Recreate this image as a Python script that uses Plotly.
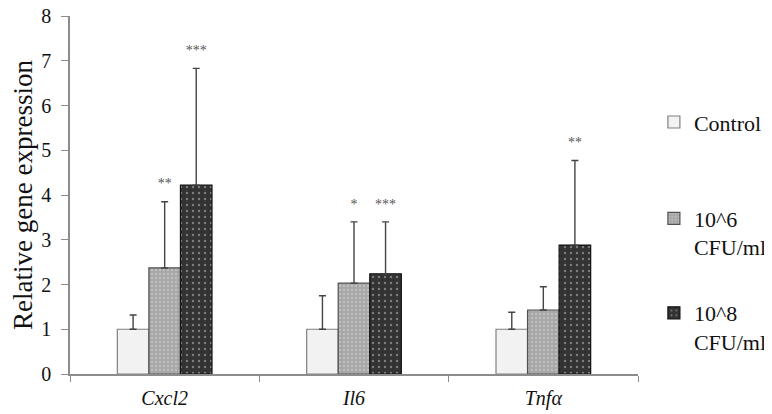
import plotly.graph_objects as go

genes = ["<i>Cxcl2</i>", "<i>Il6</i>", "<i>Tnfα</i>"]
series_names = ["Control", "10^6<br>CFU/ml", "10^8<br>CFU/ml"]
means = {
    "Control": [1.0, 1.0, 1.0],
    "10^6": [2.37, 2.03, 1.43],
    "10^8": [4.22, 2.24, 2.88],
}
err_top = {
    "Control": [1.32, 1.75, 1.38],
    "10^6": [3.85, 3.40, 1.95],
    "10^8": [6.83, 3.40, 4.77],
}
stars = {
    "Control": ["", "", ""],
    "10^6": ["**", "*", ""],
    "10^8": ["***", "***", "**"],
}
y_ticks = [0, 1, 2, 3, 4, 5, 6, 7, 8]

keys = ["Control", "10^6", "10^8"]
legend_ids = ["legend", "legend2", "legend3"]
legend_y = [0.762, 0.493, 0.229]
styles = {
    "Control": dict(color="#f2f2f2", line="#808080", fg=None, size=0, sol=0),
    "10^6": dict(color="#a6a6a6", line="#505050", fg="#d6d6d6", size=4, sol=0.3),
    "10^8": dict(color="#333333", line="#111111", fg="#c8c8c8", size=6, sol=0.12),
}

FONT = "Liberation Serif, Times New Roman, serif"
fig = go.Figure()
for i, k in enumerate(keys):
    st = styles[k]
    marker = dict(color=st["color"], line=dict(color=st["line"], width=1.2))
    if st["fg"]:
        marker["pattern"] = dict(shape=".", fgcolor=st["fg"], size=st["size"],
                                 solidity=st["sol"])
    plus = [t - m for t, m in zip(err_top[k], means[k])]
    fig.add_trace(go.Bar(
        x=genes, y=means[k], name=series_names[i], marker=marker,
        offsetgroup=k, legend=legend_ids[i],
        error_y=dict(type="data", symmetric=False, array=plus,
                     arrayminus=[0] * len(plus), color="#444444",
                     thickness=1.4, width=3.5),
    ))
for i, k in enumerate(keys):
    fig.add_trace(go.Scatter(
        x=genes, y=err_top[k], mode="markers+text", text=stars[k],
        textposition="top center", offsetgroup=k, showlegend=False,
        marker=dict(size=14, opacity=0),
        textfont=dict(size=14, color="#555555", family=FONT),
        hoverinfo="skip",
    ))

legend_common = dict(x=1.028, xanchor="left", yanchor="top",
                     font=dict(size=22, family=FONT), valign="top",
                     itemwidth=30, bgcolor="rgba(0,0,0,0)")
layout_legends = {}
for lid, ly in zip(legend_ids, legend_y):
    layout_legends[lid] = dict(legend_common, y=ly)

fig.update_layout(
    width=772, height=414,
    margin=dict(l=62, r=142, t=8, b=48),
    paper_bgcolor="white", plot_bgcolor="white",
    barmode="group", bargap=0.5, bargroupgap=0,
    scattermode="group", scattergap=0.5,
    font=dict(family=FONT, color="#111111"),
    **layout_legends,
)
fig.update_xaxes(
    type="category", showline=True, linecolor="#8c8c8c", linewidth=1.5,
    ticks="outside", tickson="boundaries", ticklen=6, tickcolor="#8c8c8c",
    ticklabelstandoff=5,
    tickfont=dict(size=20, family=FONT), showgrid=False, automargin=False,
)
fig.update_yaxes(
    range=[0, 8], tickvals=y_ticks, showline=True, linecolor="#8c8c8c",
    linewidth=1.5, ticks="outside", ticklen=7, tickcolor="#8c8c8c",
    ticklabelstandoff=6, ticklabeloverflow="allow",
    tickfont=dict(size=20, family=FONT), showgrid=False, zeroline=False,
    automargin=False,
    title=dict(text="Relative gene expression", font=dict(size=27, family=FONT),
               standoff=19),
)
fig.write_html("out.html")
